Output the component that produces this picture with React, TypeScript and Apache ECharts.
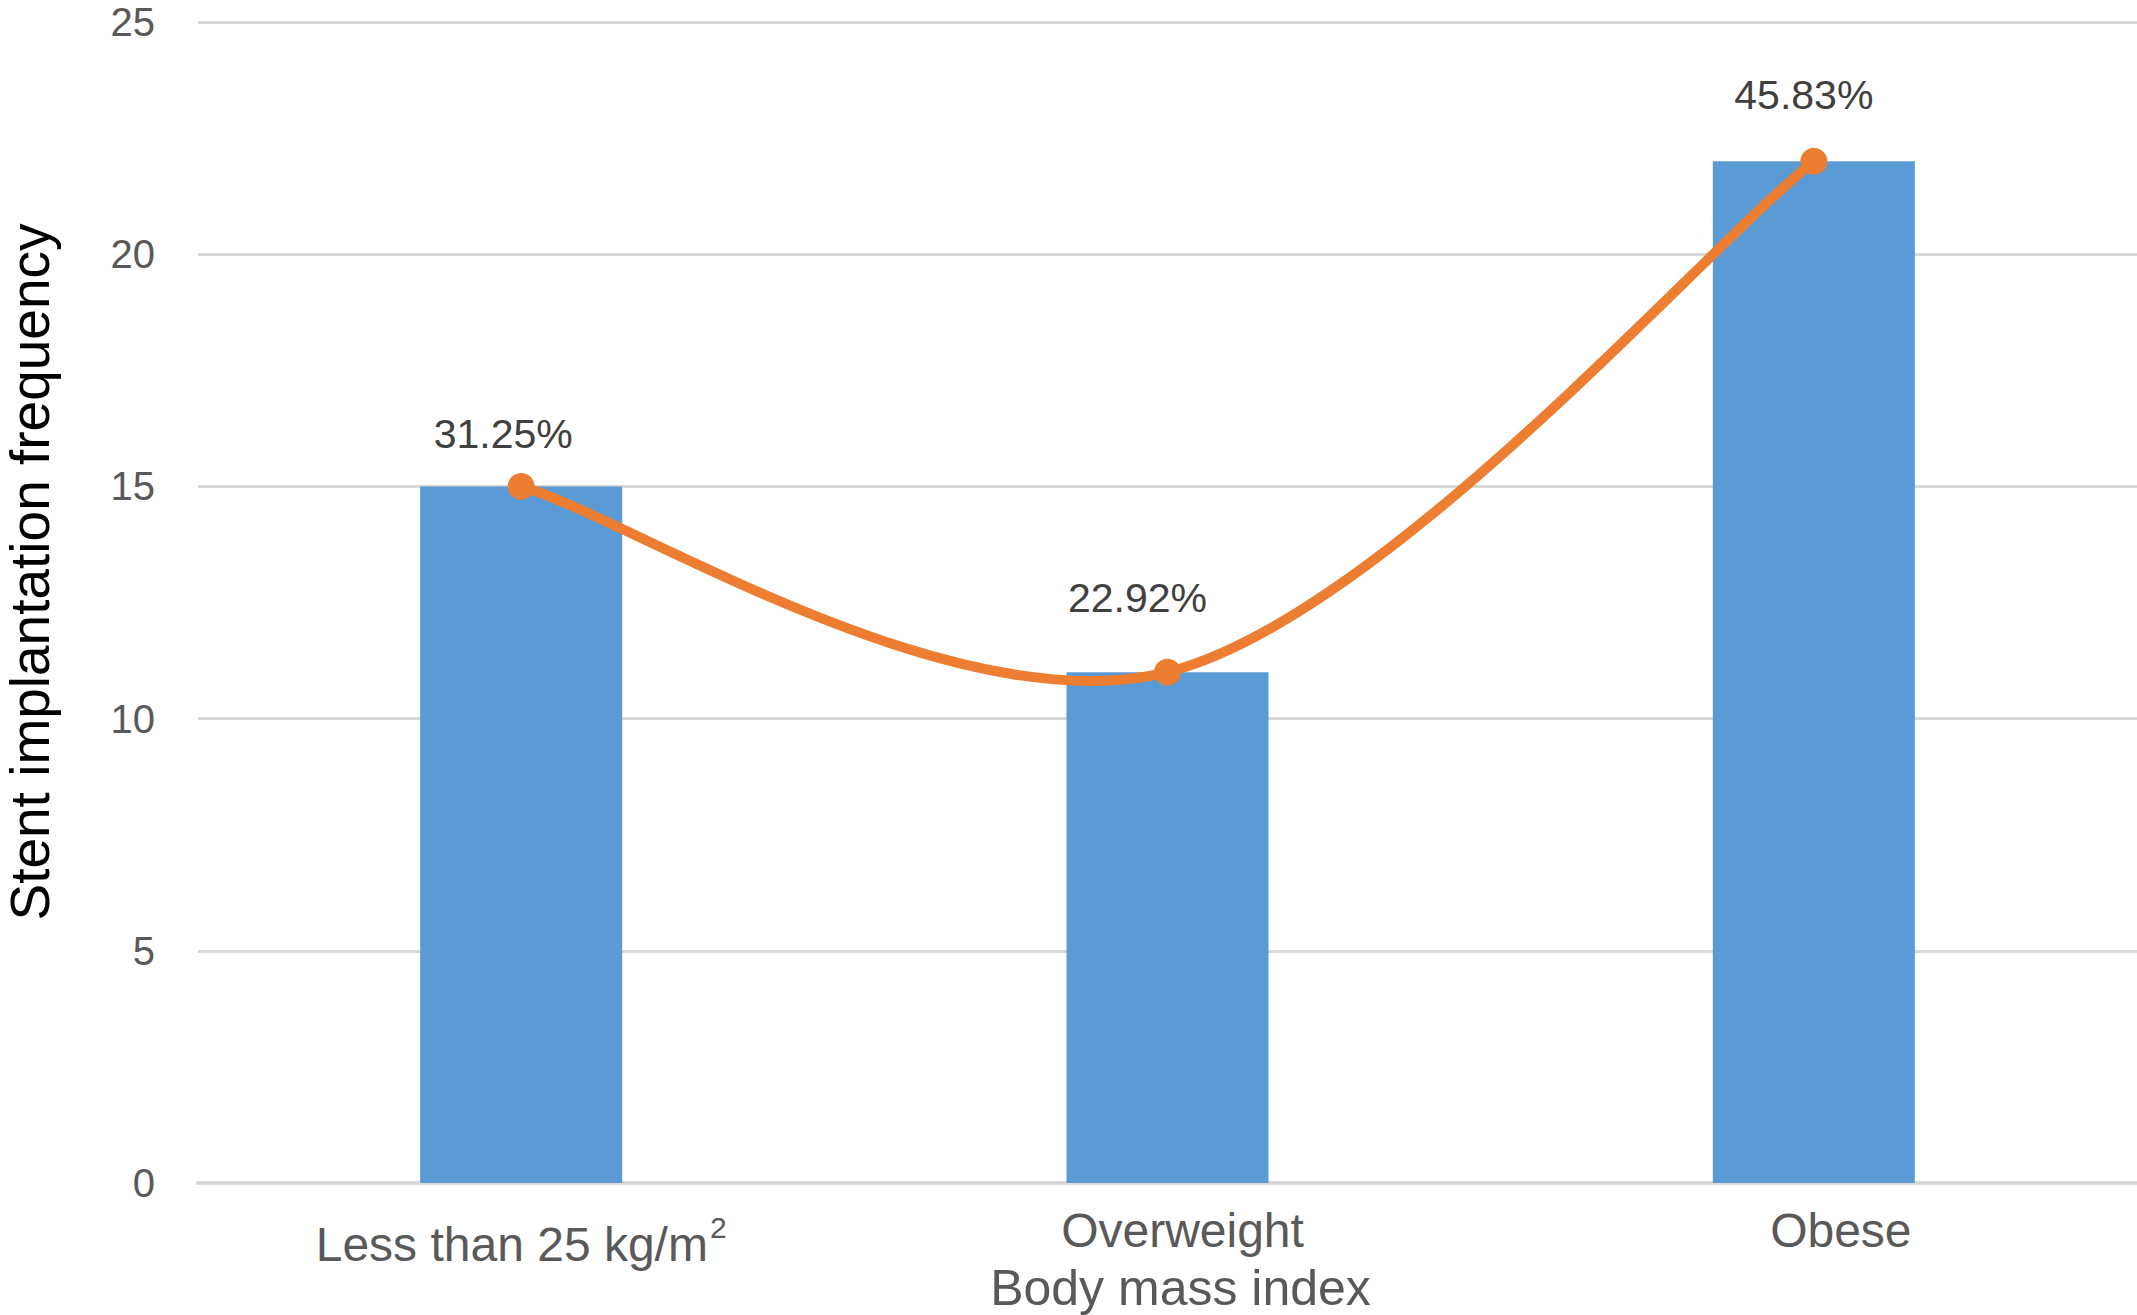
import React, { useEffect, useRef } from "react";
import * as echarts from "echarts";

const categories = ["Less than 25 kg/m²", "Overweight", "Obese"];
const counts = [15, 11, 22];
const percentLabels = ["31.25%", "22.92%", "45.83%"];
const yMin = 0;
const yMax = 25;
const yInterval = 5;
const xTitle = "Body mass index";
const yTitle = "Stent implantation frequency";

// style only: per-label nudges (px)
const labelShift = [
  [-18, 0],
  [-30, -22],
  [-10, -14],
];
const catLabelPad = [
  [14, 0, 0, 0],
  [0, 0, 0, 30],
  [0, 0, 0, 54],
];

const FONT = "'Liberation Sans', Arial, Helvetica, sans-serif";
const ORANGE = "#ed7d31";

export default function App() {
  const ref = useRef<HTMLDivElement>(null);
  useEffect(() => {
    if (!ref.current) return;
    const chart = echarts.init(ref.current, undefined, { renderer: "svg" });

    const renderCurve = (params: any, api: any) => {
      if (params.dataIndex !== 0) return null;
      const pts = counts.map((v, i) => api.coord([i, v]));
      const n = pts.length;
      let d = `M ${pts[0][0]} ${pts[0][1]}`;
      for (let i = 0; i < n - 1; i++) {
        const p0 = pts[Math.max(0, i - 1)];
        const p1 = pts[i];
        const p2 = pts[i + 1];
        const p3 = pts[Math.min(n - 1, i + 2)];
        const c1x = p1[0] + (p2[0] - p0[0]) / 6;
        const c1y = p1[1] + (p2[1] - p0[1]) / 6;
        const c2x = p2[0] - (p3[0] - p1[0]) / 6;
        const c2y = p2[1] - (p3[1] - p1[1]) / 6;
        d += ` C ${c1x} ${c1y} ${c2x} ${c2y} ${p2[0]} ${p2[1]}`;
      }
      return {
        type: "path",
        shape: { pathData: d },
        style: { stroke: ORANGE, lineWidth: 10, fill: "none", lineCap: "round", lineJoin: "round" },
      };
    };

    const option = {
      animation: false,
      backgroundColor: "#ffffff",
      textStyle: { fontFamily: FONT },
      grid: { left: 198, right: 0, top: 22, bottom: 132, containLabel: false, outerBoundsMode: "none" },
      xAxis: {
        type: "category",
        data: categories.map((c, i) => ({ value: c, textStyle: { padding: catLabelPad[i] } })),
        name: xTitle,
        nameLocation: "middle",
        nameGap: 80,
        nameMoveOverlap: false,
        nameTextStyle: { fontSize: 50, color: "#595959", fontFamily: FONT, padding: [0, 0, 0, 26] },
        axisLine: { show: true, lineStyle: { color: "#d9d9d9", width: 4 } },
        axisTick: { show: false },
        axisLabel: {
          interval: 0,
          margin: 15,
          color: "#595959",
          fontSize: 48,
          fontFamily: FONT,
          formatter: (v: string) => {
            if (v.indexOf("²") >= 0) {
              return "{b|" + v.replace("²", "") + "}{s|2}";
            }
            return "{b|" + v + "}";
          },
          rich: {
            b: { fontSize: 48, color: "#595959", fontFamily: FONT, verticalAlign: "bottom", lineHeight: 56 },
            s: { fontSize: 30, color: "#595959", fontFamily: FONT, verticalAlign: "bottom", lineHeight: 36, padding: [0, 0, 26, 2] },
          },
        },
      },
      yAxis: {
        type: "value",
        min: yMin,
        max: yMax,
        interval: yInterval,
        axisLine: { show: false },
        axisTick: { show: false },
        axisLabel: { margin: 43, color: "#595959", fontSize: 40, fontFamily: FONT },
        splitLine: { show: true, lineStyle: { color: "#d9d9d9", width: 3 } },
      },
      graphic: [
        {
          type: "text",
          x: 30,
          y: 572,
          rotation: Math.PI / 2,
          style: {
            text: yTitle,
            fontSize: 55,
            fontFamily: FONT,
            fill: "#000000",
            align: "center",
            verticalAlign: "middle",
          },
        },
      ],
      series: [
        {
          type: "bar",
          data: counts,
          barWidth: 202,
          itemStyle: { color: "#5b9bd5" },
          z: 2,
        },
        {
          type: "custom",
          data: counts.map((v, i) => [i, v]),
          encode: { x: 0, y: 1 },
          renderItem: renderCurve,
          z: 3,
          silent: true,
        },
        {
          type: "line",
          data: counts.map((v, i) => ({
            value: v,
            label: { offset: labelShift[i] },
          })),
          symbol: "circle",
          symbolSize: 27,
          lineStyle: { width: 0, opacity: 0 },
          itemStyle: { color: ORANGE },
          z: 4,
          label: {
            show: true,
            position: "top",
            distance: 18,
            color: "#404040",
            fontSize: 41,
            fontFamily: FONT,
            formatter: (p: any) => percentLabels[p.dataIndex],
          },
        },
      ],
    };
    chart.setOption(option);
    return () => chart.dispose();
  }, []);
  return (
    <div
      ref={ref}
      style={{ position: "fixed", left: 0, top: 0, width: 2137, height: 1315, background: "#fff" }}
    />
  );
}
